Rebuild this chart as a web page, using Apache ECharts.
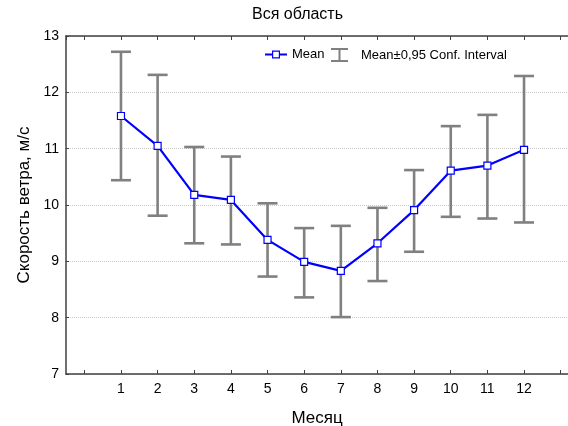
<!DOCTYPE html>
<html><head><meta charset="utf-8">
<script src="https://cdn.jsdelivr.net/npm/echarts@6/dist/echarts.min.js"></script>
<style>html,body{margin:0;padding:0;background:#fff}#c{width:568px;height:426px}</style>
</head><body><div id="c"></div>
<script>
var months = [1,2,3,4,5,6,7,8,9,10,11,12];
var meanVals = [11.58,11.05,10.18,10.09,9.38,8.99,8.83,9.32,9.91,10.61,10.70,10.98];
var lowerVals = [10.44,9.81,9.32,9.30,8.73,8.36,8.01,8.65,9.17,9.79,9.76,9.69];
var upperVals = [12.72,12.31,11.03,10.86,10.03,9.59,9.63,9.95,10.62,11.40,11.60,12.29];
var yTicks = [7,8,9,10,11,12,13];
var title = 'Вся область';
var xName = 'Месяц';
var yName = 'Скорость ветра, м/с';
var meanName = 'Mean';
var ciName = 'Mean±0,95 Conf. Interval';

var font = 'Liberation Sans, Arial, sans-serif';
var meanData = months.map(function(m,i){return [m, meanVals[i]];});
var ciData = months.map(function(m,i){return [m, lowerVals[i], upperVals[i]];});

var meanIcon = 'path://M0 3H7V0H15V3H22V5H15V8H7V5H0ZM8.2 1.2V6.8H13.8V1.2Z';
var ciIcon = 'path://M0 0H17V2H9.5V12H17V14H0V12H7.5V2H0Z';

var chart = echarts.init(document.getElementById('c'), null, {renderer:'canvas'});
chart.setOption({
  animation:false,
  backgroundColor:'#fff',
  title:{text:title, left:252, top:7, padding:0, textStyle:{fontFamily:font, fontSize:16, fontWeight:'normal', color:'#000'}},
  legend:[{
    left:265, top:48, padding:0, itemWidth:22, itemHeight:14, symbolKeepAspect:true,
    textStyle:{fontFamily:font, fontSize:13, color:'#000'},
    data:[{name:meanName, icon:meanIcon, itemStyle:{color:'#0000ff', borderWidth:0}}]
  },{
    left:331, top:48, padding:0, itemWidth:17, itemHeight:14, symbolKeepAspect:true,
    textStyle:{fontFamily:font, fontSize:13, color:'#000', padding:[0,0,0,8]},
    data:[{name:ciName, icon:ciIcon, itemStyle:{color:'#808080', borderWidth:0}}]
  }],
  grid:{left:66, right:0, top:36, bottom:52, outerBoundsMode:'none', containLabel:false},
  xAxis:[{
    type:'value', min:-0.5, max:13.2, splitNumber:14, position:'bottom',
    name:xName, nameLocation:'middle', nameGap:36,
    nameTextStyle:{fontFamily:font, fontSize:17, color:'#000'},
    axisLine:{onZero:false, lineStyle:{color:'#404040', width:1.5}},
    axisTick:{inside:true, length:4, lineStyle:{color:'#404040'}},
    axisLabel:{fontFamily:font, fontSize:14, color:'#000', margin:8, showMinLabel:false, showMaxLabel:false,
      formatter:function(v){return (v>=1 && v<=12 && Math.round(v)===v) ? String(v) : '';}},
    splitLine:{show:false}
  },{
    type:'value', min:-0.5, max:13.2, splitNumber:14, position:'top',
    axisLine:{show:true, onZero:false, lineStyle:{color:'#404040', width:1.5}},
    axisTick:{show:true, inside:true, length:4, lineStyle:{color:'#404040'}},
    axisLabel:{show:false}, splitLine:{show:false}
  }],
  yAxis:{
    type:'value', min:yTicks[0], max:yTicks[yTicks.length-1], interval:1,
    name:yName, nameLocation:'middle', nameGap:33, nameRotate:90,
    nameTextStyle:{fontFamily:font, fontSize:17, color:'#000'},
    axisLine:{show:true, onZero:false, lineStyle:{color:'#404040', width:1.5}},
    axisTick:{show:true, inside:true, length:3, lineStyle:{color:'#404040'}},
    axisLabel:{fontFamily:font, fontSize:14, color:'#000', margin:7},
    splitLine:{show:true, lineStyle:{color:'#c8c8c8', type:'dotted', width:1}}
  },
  series:[{
    name:ciName, type:'custom', z:2, data:ciData, encode:{x:0, y:[1,2]},
    itemStyle:{color:'#808080'},
    renderItem:function(params, api){
      var x = api.value(0);
      var lo = api.coord([x, api.value(1)]);
      var hi = api.coord([x, api.value(2)]);
      var hw = 10;
      var st = {stroke:'#808080', lineWidth:2.6};
      return {type:'group', children:[
        {type:'line', shape:{x1:lo[0], y1:lo[1], x2:hi[0], y2:hi[1]}, style:st},
        {type:'line', shape:{x1:lo[0]-hw, y1:lo[1], x2:lo[0]+hw, y2:lo[1]}, style:st},
        {type:'line', shape:{x1:hi[0]-hw, y1:hi[1], x2:hi[0]+hw, y2:hi[1]}, style:st}
      ]};
    }
  },{
    name:meanName, type:'line', z:3, data:meanData,
    symbol:'rect', symbolSize:7,
    lineStyle:{color:'#0000ff', width:2.2},
    itemStyle:{color:'#ffffff', borderColor:'#0000ff', borderWidth:1.2}
  }]
});
</script></body></html>
